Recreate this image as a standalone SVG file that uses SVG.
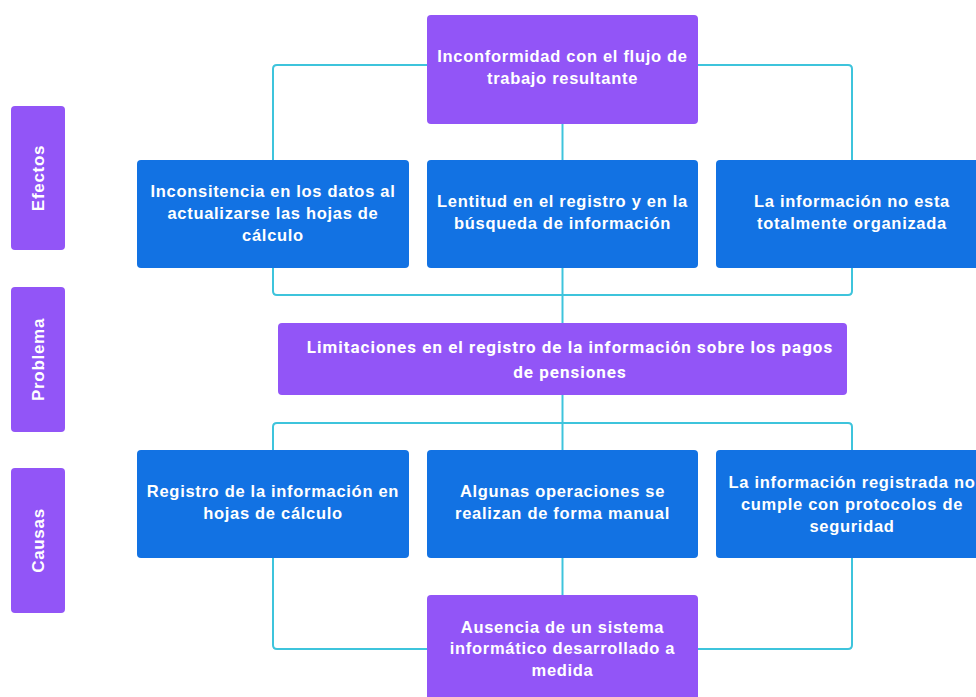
<svg xmlns="http://www.w3.org/2000/svg" width="976" height="697" viewBox="0 0 976 697">
  <style>
    .purple { fill: #9255f7; }
    .blue { fill: #1272e3; }
    .lbl { font-family: "Liberation Sans", Arial, sans-serif; font-weight: bold; font-size: 16.5px; fill: #ffffff; text-anchor: middle; letter-spacing: 0.7px; }
    .lblr { font-family: Roboto, "Liberation Sans", sans-serif; font-weight: bold; font-size: 17px; fill: #ffffff; text-anchor: middle; letter-spacing: 1px; }
    .side { font-family: "Liberation Sans", Arial, sans-serif; font-weight: bold; font-size: 17px; fill: #ffffff; text-anchor: middle; letter-spacing: 0.7px; }
    .conn { fill: none; stroke: #3ec4dc; stroke-width: 2; stroke-linejoin: round; }
  </style>
  <rect width="976" height="697" fill="#ffffff"/>

  <!-- connectors -->
  <g id="connectors">
    <path class="conn" d="M427 65 H277 Q273 65 273 69 V160"/>
    <path class="conn" d="M698 65 H848 Q852 65 852 69 V160"/>
    <path class="conn" d="M562.5 124 V160"/>
    <path class="conn" d="M273 268 V291 Q273 295 277 295 H848 Q852 295 852 291 V268"/>
    <path class="conn" d="M562.5 268 V323"/>
    <path class="conn" d="M273 450 V427 Q273 423 277 423 H848 Q852 423 852 427 V450"/>
    <path class="conn" d="M562.5 395 V450"/>
    <path class="conn" d="M273 558 V645 Q273 649 277 649 H427"/>
    <path class="conn" d="M852 558 V645 Q852 649 848 649 H698"/>
    <path class="conn" d="M562.5 558 V595"/>
  </g>

  <!-- side labels -->
  <g id="side-efectos">
    <rect class="purple" x="11" y="106" width="54" height="144" rx="4"/>
    <text class="side" transform="translate(44 178) rotate(-90)">Efectos</text>
  </g>
  <g id="side-problema">
    <rect class="purple" x="11" y="287" width="54" height="145" rx="4"/>
    <text class="side" transform="translate(44 359.5) rotate(-90)">Problema</text>
  </g>
  <g id="side-causas">
    <rect class="purple" x="11" y="468" width="54" height="145" rx="4"/>
    <text class="side" transform="translate(44 540.5) rotate(-90)">Causas</text>
  </g>

  <!-- effects -->
  <g id="effect-main">
    <rect class="purple" x="427" y="15" width="271" height="109" rx="4"/>
    <text class="lbl" x="562.5" y="62">Inconformidad con el flujo de</text>
    <text class="lbl" x="562.5" y="84">trabajo resultante</text>
  </g>
  <g id="effect-1">
    <rect class="blue" x="137" y="160" width="272" height="108" rx="4"/>
    <text class="lbl" x="273" y="197">Inconsitencia en los datos al</text>
    <text class="lbl" x="273" y="219">actualizarse las hojas de</text>
    <text class="lbl" x="273" y="241">cálculo</text>
  </g>
  <g id="effect-2">
    <rect class="blue" x="427" y="160" width="271" height="108" rx="4"/>
    <text class="lbl" x="562.5" y="207">Lentitud en el registro y en la</text>
    <text class="lbl" x="562.5" y="229">búsqueda de información</text>
  </g>
  <g id="effect-3">
    <rect class="blue" x="716" y="160" width="272" height="108" rx="4"/>
    <text class="lbl" x="852" y="207">La información no esta</text>
    <text class="lbl" x="852" y="229">totalmente organizada</text>
  </g>

  <!-- problem -->
  <g id="problem">
    <rect class="purple" x="278" y="323" width="569" height="72" rx="4"/>
    <text class="lblr" x="570" y="353">Limitaciones en el registro de la información sobre los pagos</text>
    <text class="lblr" x="570" y="378">de pensiones</text>
  </g>

  <!-- causes -->
  <g id="cause-1">
    <rect class="blue" x="137" y="450" width="272" height="108" rx="4"/>
    <text class="lbl" x="273" y="497">Registro de la información en</text>
    <text class="lbl" x="273" y="519">hojas de cálculo</text>
  </g>
  <g id="cause-2">
    <rect class="blue" x="427" y="450" width="271" height="108" rx="4"/>
    <text class="lbl" x="562.5" y="497">Algunas operaciones se</text>
    <text class="lbl" x="562.5" y="519">realizan de forma manual</text>
  </g>
  <g id="cause-3">
    <rect class="blue" x="716" y="450" width="272" height="108" rx="4"/>
    <text class="lbl" x="852" y="488">La información registrada no</text>
    <text class="lbl" x="852" y="510">cumple con protocolos de</text>
    <text class="lbl" x="852" y="532">seguridad</text>
  </g>
  <g id="cause-root">
    <rect class="purple" x="427" y="595" width="271" height="110" rx="4"/>
    <text class="lbl" x="562.5" y="633">Ausencia de un sistema</text>
    <text class="lbl" x="562.5" y="654">informático desarrollado a</text>
    <text class="lbl" x="562.5" y="676">medida</text>
  </g>
</svg>
